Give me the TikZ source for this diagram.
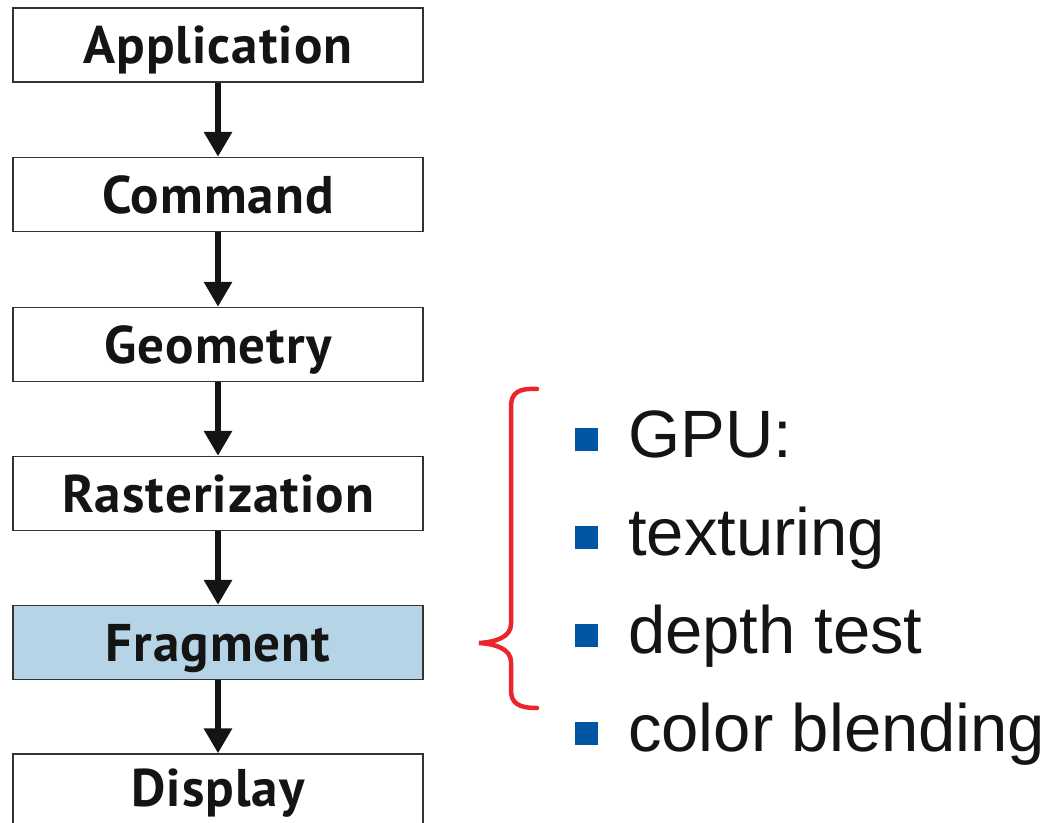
\documentclass[tikz,border=0pt]{standalone}
\usepackage{fontspec}
\newfontfamily\boxfont{PT Sans}[LetterSpace=2]
\newfontfamily\listfont{Liberation Sans}
\definecolor{fragblue}{HTML}{B5D5E6}
\definecolor{bulletblue}{HTML}{0055A5}
\definecolor{bracered}{HTML}{E8262B}
\definecolor{boxline}{HTML}{333333}
\usetikzlibrary{arrows.meta}
\tikzset{
  stagebox/.style={draw=boxline, line width=1.4pt, fill=white, minimum width=410pt, minimum height=74pt, inner sep=0pt, text height=37pt, text depth=0pt, font=\boxfont\bfseries\fontsize{53}{60}\selectfont, text=black!92},
  flowarrow/.style={line width=6.5pt, black!92, -{Triangle[width=27pt,length=25pt]}},
  bulletsq/.style={fill=bulletblue, minimum size=23pt, inner sep=0pt},
  listtext/.style={anchor=base west, inner sep=0pt, font=\listfont\fontsize{67}{75}\selectfont, text=black!92}
}
\begin{document}
\begin{tikzpicture}[x=1pt,y=-1pt]
\useasboundingbox (0,0) rectangle (1052,822);
\clip (0,0) rectangle (1052,822);
\node[stagebox] (app) at (218,45) {Application};
\node[stagebox] (cmd) at (218,194.5) {Command};
\node[stagebox] (geo) at (218,344.5) {Geometry};
\node[stagebox] (ras) at (218,493.5) {Rasterization};
\node[stagebox, fill=fragblue] (frag) at (218,642.5) {Fragment};
\node[stagebox, text depth=6pt] (disp) at (218,791) {Display};
\draw[flowarrow] (app.south) -- (cmd.north);
\draw[flowarrow] (cmd.south) -- (geo.north);
\draw[flowarrow] (geo.south) -- (ras.north);
\draw[flowarrow] (ras.south) -- (frag.north);
\draw[flowarrow] (frag.south) -- (disp.north);
% brace
\draw[bracered, line width=4.5pt, line cap=round]
  (537,389) .. controls (518,388) and (511,393) .. (511,407)
  -- (511,624) .. controls (511,637) and (496,642) .. (479,643)
  .. controls (496,644) and (511,649) .. (511,662)
  -- (511,690) .. controls (511,703) and (518,708) .. (537,708);
% list
\node[bulletsq] (b1) at (586.5,439) {};
\node[bulletsq] (b2) at (586.5,537) {};
\node[bulletsq] (b3) at (586.5,635) {};
\node[bulletsq] (b4) at (586.5,733) {};
\node[listtext] (t1) at (628,457) {GPU:};
\node[listtext] (t2) at (628,555) {texturing};
\node[listtext] (t3) at (628,653) {depth test};
\node[listtext] (t4) at (628,751) {color blending};
\end{tikzpicture}
\end{document}
